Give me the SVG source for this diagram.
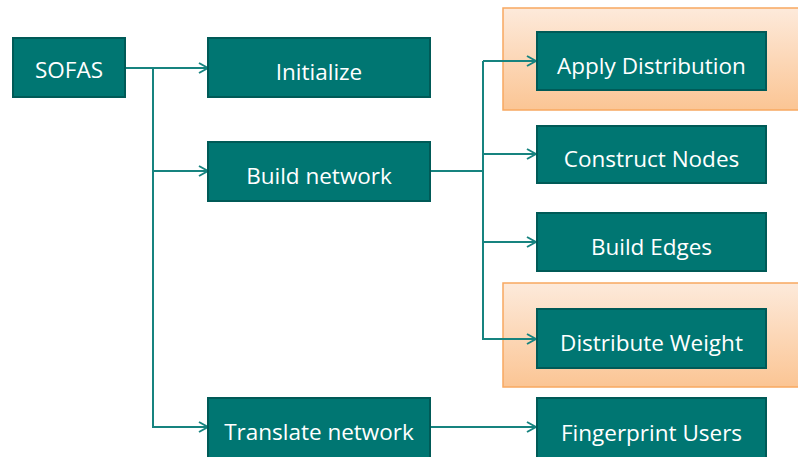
<svg xmlns="http://www.w3.org/2000/svg" width="798" height="457" viewBox="0 0 798 457">
<style>
.box{fill:#007672;stroke:#005a57;stroke-width:2}
.lbl{font-family:"Open Sans","Liberation Sans",sans-serif;font-size:22.5px;fill:#ffffff;text-anchor:middle;dominant-baseline:central}
.hl{fill:url(#og);stroke:#f8a860;stroke-width:1.5}
.c{fill:none;stroke:#16837f;stroke-width:2}
</style>
<defs>
<linearGradient id="og" x1="0" y1="0" x2="0" y2="1">
<stop offset="0" stop-color="#fdeadb"/>
<stop offset="1" stop-color="#fbc594"/>
</linearGradient>
<marker id="ah" viewBox="0 0 12 12" refX="11" refY="6" markerWidth="12" markerHeight="12" markerUnits="userSpaceOnUse" orient="auto">
<path d="M2,1 L11,6 L2,11" fill="none" stroke="#16837f" stroke-width="2"/>
</marker>
</defs>
<g id="hl1"><rect class="hl" x="503" y="8" width="300" height="102"/></g>
<g id="hl2"><rect class="hl" x="503" y="283" width="300" height="104"/></g>
<g id="connectors">
<path class="c" d="M125,68 H208" marker-end="url(#ah)"/>
<path class="c" d="M153,68 V171 H208" marker-end="url(#ah)"/>
<path class="c" d="M153,171 V427 H208" marker-end="url(#ah)"/>
<path class="c" d="M430,171 H483"/>
<path class="c" d="M483,61 H536" marker-end="url(#ah)"/>
<path class="c" d="M483,61 V339 H536" marker-end="url(#ah)"/>
<path class="c" d="M483,154 H536" marker-end="url(#ah)"/>
<path class="c" d="M483,242 H536" marker-end="url(#ah)"/>
<path class="c" d="M430,427 H536" marker-end="url(#ah)"/>
</g>
<g id="sofas"><rect class="box" x="13" y="38" width="112" height="59"/><text class="lbl" x="69" y="69">SOFAS</text></g>
<g id="initialize"><rect class="box" x="208" y="38" width="222" height="59"/><text class="lbl" x="319" y="71">Initialize</text></g>
<g id="build-network"><rect class="box" x="208" y="142" width="222" height="59"/><text class="lbl" x="319" y="175">Build network</text></g>
<g id="translate-network"><rect class="box" x="208" y="398" width="222" height="62"/><text class="lbl" x="319" y="431">Translate network</text></g>
<g id="apply-distribution"><rect class="box" x="537" y="32" width="229" height="58"/><text class="lbl" x="651.5" y="65">Apply Distribution</text></g>
<g id="construct-nodes"><rect class="box" x="537" y="126" width="229" height="57"/><text class="lbl" x="651.5" y="158">Construct Nodes</text></g>
<g id="build-edges"><rect class="box" x="537" y="213" width="229" height="58"/><text class="lbl" x="651.5" y="246">Build Edges</text></g>
<g id="distribute-weight"><rect class="box" x="537" y="309" width="229" height="59"/><text class="lbl" x="651.5" y="342">Distribute Weight</text></g>
<g id="fingerprint-users"><rect class="box" x="537" y="398" width="229" height="62"/><text class="lbl" x="651.5" y="432">Fingerprint Users</text></g>
</svg>
